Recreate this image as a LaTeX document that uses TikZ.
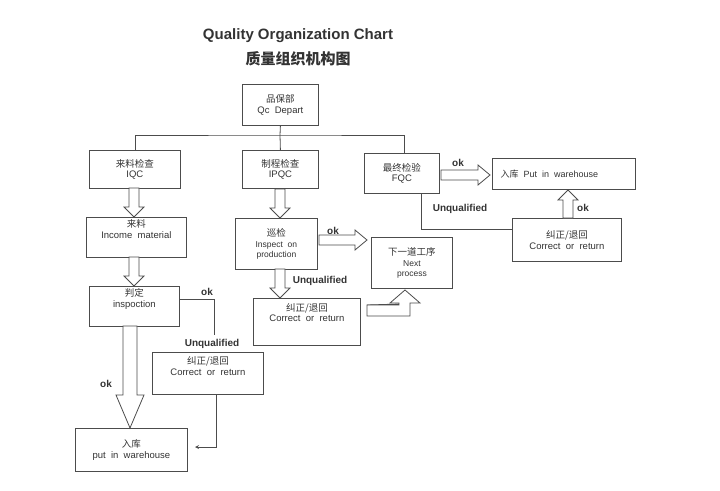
\documentclass[tikz,border=0pt]{standalone}
\usepackage{fontspec}
\setmainfont{Liberation Sans}
\newfontfamily\cjk{Noto Sans CJK SC}
\begin{document}
\begin{tikzpicture}[x=1pt,y=-1pt,
  box/.style={draw=black!70,line width=0.8pt,inner sep=0pt,align=center,anchor=north west,font=\fontsize{9.5}{10.5}\selectfont,text=black!80},
  ln/.style={draw=black!70,line width=0.8pt},
  blk/.style={draw=black!70,line width=0.8pt,fill=white,line join=miter},
  lab/.style={font=\bfseries\fontsize{10}{11}\selectfont,text=black!80}]
\useasboundingbox (0,0) rectangle (720,490);
\newcommand\mkbox[6]{\node[box,minimum width={#4-#2},minimum height={#5-#3}] (#1) at (#2,#3) {#6};}
\newcommand\dnar[3]{\draw[blk] ({#1-5},#2) -- ({#1+5},#2) -- ({#1+5},{#3-10}) -- ({#1+10},{#3-10}) -- (#1,#3) -- ({#1-10},{#3-10}) -- ({#1-5},{#3-10}) -- cycle;}
\newcommand\upar[3]{\draw[blk] ({#1-5},#2) -- ({#1+5},#2) -- ({#1+5},{#3+10}) -- ({#1+10},{#3+10}) -- (#1,#3) -- ({#1-10},{#3+10}) -- ({#1-5},{#3+10}) -- cycle;}
\newcommand\rtar[3]{\draw[blk] (#2,{#1-5}) -- (#2,{#1+5}) -- ({#3-12},{#1+5}) -- ({#3-12},{#1+10}) -- (#3,#1) -- ({#3-12},{#1-10}) -- ({#3-12},{#1-5}) -- cycle;}
\node[font=\bfseries\fontsize{15}{17}\selectfont,text=black!80] (t1) at (298,36) {Quality Organization Chart};
\node[font=\cjk\bfseries\fontsize{15}{17}\selectfont,text=black!80] (t2) at (298,59) {质量组织机构图};
\mkbox{qc}{242}{84}{318}{125}{{\cjk 品保部}\\Qc\ \ Depart}
\mkbox{iqc}{89}{150}{180}{188}{{\cjk 来料检查}\\IQC}
\mkbox{ipqc}{242}{150}{318}{188}{{\cjk 制程检查}\\IPQC}
\mkbox{fqc}{364}{153}{439}{193}{{\cjk 最终检验}\\FQC}
\node[box,minimum width=143,minimum height=31] (wh1) at (492,158) {};
\node[anchor=west,font=\fontsize{9}{10}\selectfont,text=black!80] (wh1t) at (497,174) {{\cjk 入库}\ \ Put\ \ in\ \ warehouse};
\mkbox{cf}{512}{218}{621}{261}{{\cjk 纠正/退回}\\Correct\ \ or\ \ return}
\mkbox{insp}{235}{218}{317}{269}{{\cjk 巡检}\\{\fontsize{8.5}{10}\selectfont Inspect\ \ on}\\{\fontsize{8.5}{10}\selectfont production}}
\mkbox{next}{371}{237}{452}{288}{{\cjk 下一道工序}\\{\fontsize{8.5}{10}\selectfont Next}\\{\fontsize{8.5}{10}\selectfont process}}
\mkbox{cp}{253}{298}{360}{345}{{\cjk 纠正/退回}\\Correct\ \ or\ \ return\\[8pt]}
\mkbox{inc}{86}{217}{186}{257}{{\cjk 来料}\\Income\ \ material\\[6pt]}
\mkbox{ins}{89}{286}{179}{326}{{\cjk 判定}\\inspoction\\[6pt]}
\mkbox{cl}{152}{352}{263}{394}{{\cjk 纠正/退回}\\Correct\ \ or\ \ return\\[4pt]}
\mkbox{wh2}{75}{428}{187}{471}{{\cjk 入库}\\put\ \ in\ \ warehouse}
% tree
\coordinate (bus) at (280,135);
\draw[ln] (qc.south) -- (bus);
\draw[ln] (iqc.north -| 135,0) |- (bus) -| (fqc.north -| 404,0);
\draw[ln] (bus) -- (ipqc.north);
% block arrows
\dnar{134}{188}{217}
\dnar{134}{257}{286}
\dnar{280}{189}{218}
\dnar{280}{269}{298}
\draw[blk] (123,326) -- (137,326) -- (137,395) -- (144,395) -- (130,428) -- (116,395) -- (123,395) -- cycle;
\rtar{240}{319}{367}
\rtar{175}{441}{490}
\upar{568}{218}{190}
\draw[blk] (367,305) -- (400,305) -- (400,304) -- (400,303) -- (400,302) -- (400,301) -- (400,304) -- cycle;
\draw[blk] (367,305) -- (399,305) -- (399,303) -- (390,303) -- (405,290) -- (420,303) -- (410,303) -- (410,316) -- (367,316) -- cycle;
% lines
\draw[ln] (ins.east |- 0,299) -- (214,299) -- (214,335);
\coordinate (lb) at (216,447);
\draw[ln,->,>=stealth] (216,394) -- (lb) -- (195,447);
\draw[ln] (fqc.south -| 421,0) |- (cf.west |- 0,229);
% labels
\node[lab] (l1) at (458,163) {ok};
\node[lab] (l2) at (460,209) {Unqualified};
\node[lab] (l3) at (583,208) {ok};
\node[lab] (l4) at (333,231) {ok};
\node[lab] (l5) at (320,281) {Unqualified};
\node[lab] (l6) at (207,292) {ok};
\node[lab] (l7) at (212,344) {Unqualified};
\node[lab] (l8) at (106,384) {ok};
\end{tikzpicture}
\end{document}
